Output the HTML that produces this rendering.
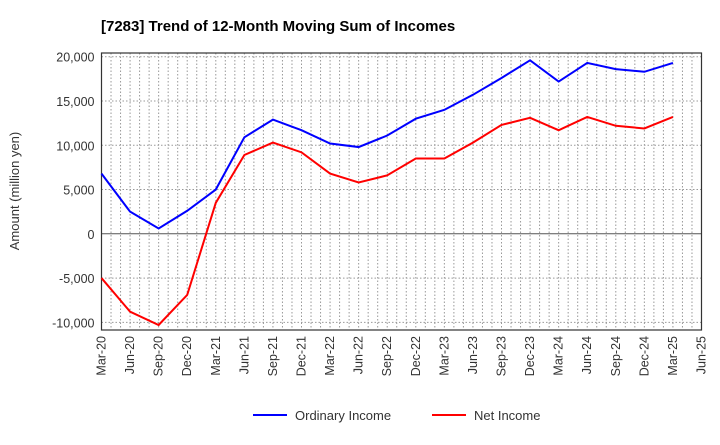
<!DOCTYPE html>
<html><head><meta charset="utf-8"><style>
body{margin:0;background:#fff;font-family:"Liberation Sans",sans-serif}
</style></head><body>
<svg id="c" width="720" height="440" xmlns="http://www.w3.org/2000/svg">
<text x="101" y="31" font-size="15" font-weight="bold" font-family="Liberation Sans">[7283]  Trend of 12-Month Moving Sum of Incomes</text>
<g id="grid"></g><g id="axes"></g><g id="series"></g>
<text transform="translate(19,191) rotate(-90)" text-anchor="middle" font-size="13" fill="#333">Amount (million yen)</text>
<g>
<line x1="253" y1="415" x2="287" y2="415" stroke="#0000ff" stroke-width="2"/>
<text x="295" y="420" font-size="13" fill="#333">Ordinary Income</text>
<line x1="432" y1="415" x2="466" y2="415" stroke="#ff0000" stroke-width="2"/>
<text x="474" y="420" font-size="13" fill="#333">Net Income</text>
</g>
</svg>
<script>
const categories=["Mar-20","Jun-20","Sep-20","Dec-20","Mar-21","Jun-21","Sep-21","Dec-21","Mar-22","Jun-22","Sep-22","Dec-22","Mar-23","Jun-23","Sep-23","Dec-23","Mar-24","Jun-24","Sep-24","Dec-24","Mar-25","Jun-25"];
const ordinaryIncome=[6800,2500,600,2600,5000,10900,12900,11700,10200,9800,11100,13000,14000,15700,17600,19600,17200,19300,18600,18300,19300];
const netIncome=[-5000,-8800,-10300,-6900,3500,8900,10300,9200,6800,5800,6600,8500,8500,10300,12300,13100,11700,13200,12200,11900,13200];
const yTicks=[20000,15000,10000,5000,0,-5000,-10000];
const yTickLabels=["20,000","15,000","10,000","5,000","0","-5,000","-10,000"];
const NS="http://www.w3.org/2000/svg";
const L=101.5,R=701.5,T=53,B=330;
const x=i=>L+i*(R-L)/(categories.length-1);
const y=v=>233.8-v*0.008853;
function mk(tag,attrs,parent){const e=document.createElementNS(NS,tag);for(const k in attrs)e.setAttribute(k,attrs[k]);parent.appendChild(e);return e;}
const grid=document.getElementById('grid'),axes=document.getElementById('axes'),ser=document.getElementById('series');
for(let m=1;m<(categories.length-1)*3;m++){const xx=L+m*(R-L)/((categories.length-1)*3);
const g=mk('line',{x1:xx,x2:xx,y1:T,y2:B,stroke:'#999','stroke-dasharray':'1.5,2','stroke-width':1},grid);

}
yTicks.forEach((v,i)=>{const yy=y(v);
const g=mk('line',{x1:L,x2:R,y1:yy,y2:yy,stroke:v===0?'#555':'#999','stroke-dasharray':v===0?'none':'1.5,2','stroke-width':1},grid);


const t=mk('text',{x:L-7,y:yy+5,'text-anchor':'end','font-size':12.5,fill:'#333'},axes);t.textContent=yTickLabels[i];

});
const fr=mk('rect',{x:L,y:T,width:R-L,height:B-T,fill:'none',stroke:'#333','stroke-width':1.2},axes);


categories.forEach((c,i)=>{const t=mk('text',{transform:`translate(${x(i)+4},${B+6}) rotate(-90)`,'text-anchor':'end','font-size':12.5,fill:'#333'},axes);t.textContent=c;

});
function line(data,color,name){const p=mk('polyline',{points:data.map((v,i)=>x(i)+','+y(v)).join(' '),fill:'none',stroke:color,'stroke-width':2},ser);

}
line(ordinaryIncome,'#0000ff','ordinary-income-line');
line(netIncome,'#ff0000','net-income-line');
</script>
</body></html>
